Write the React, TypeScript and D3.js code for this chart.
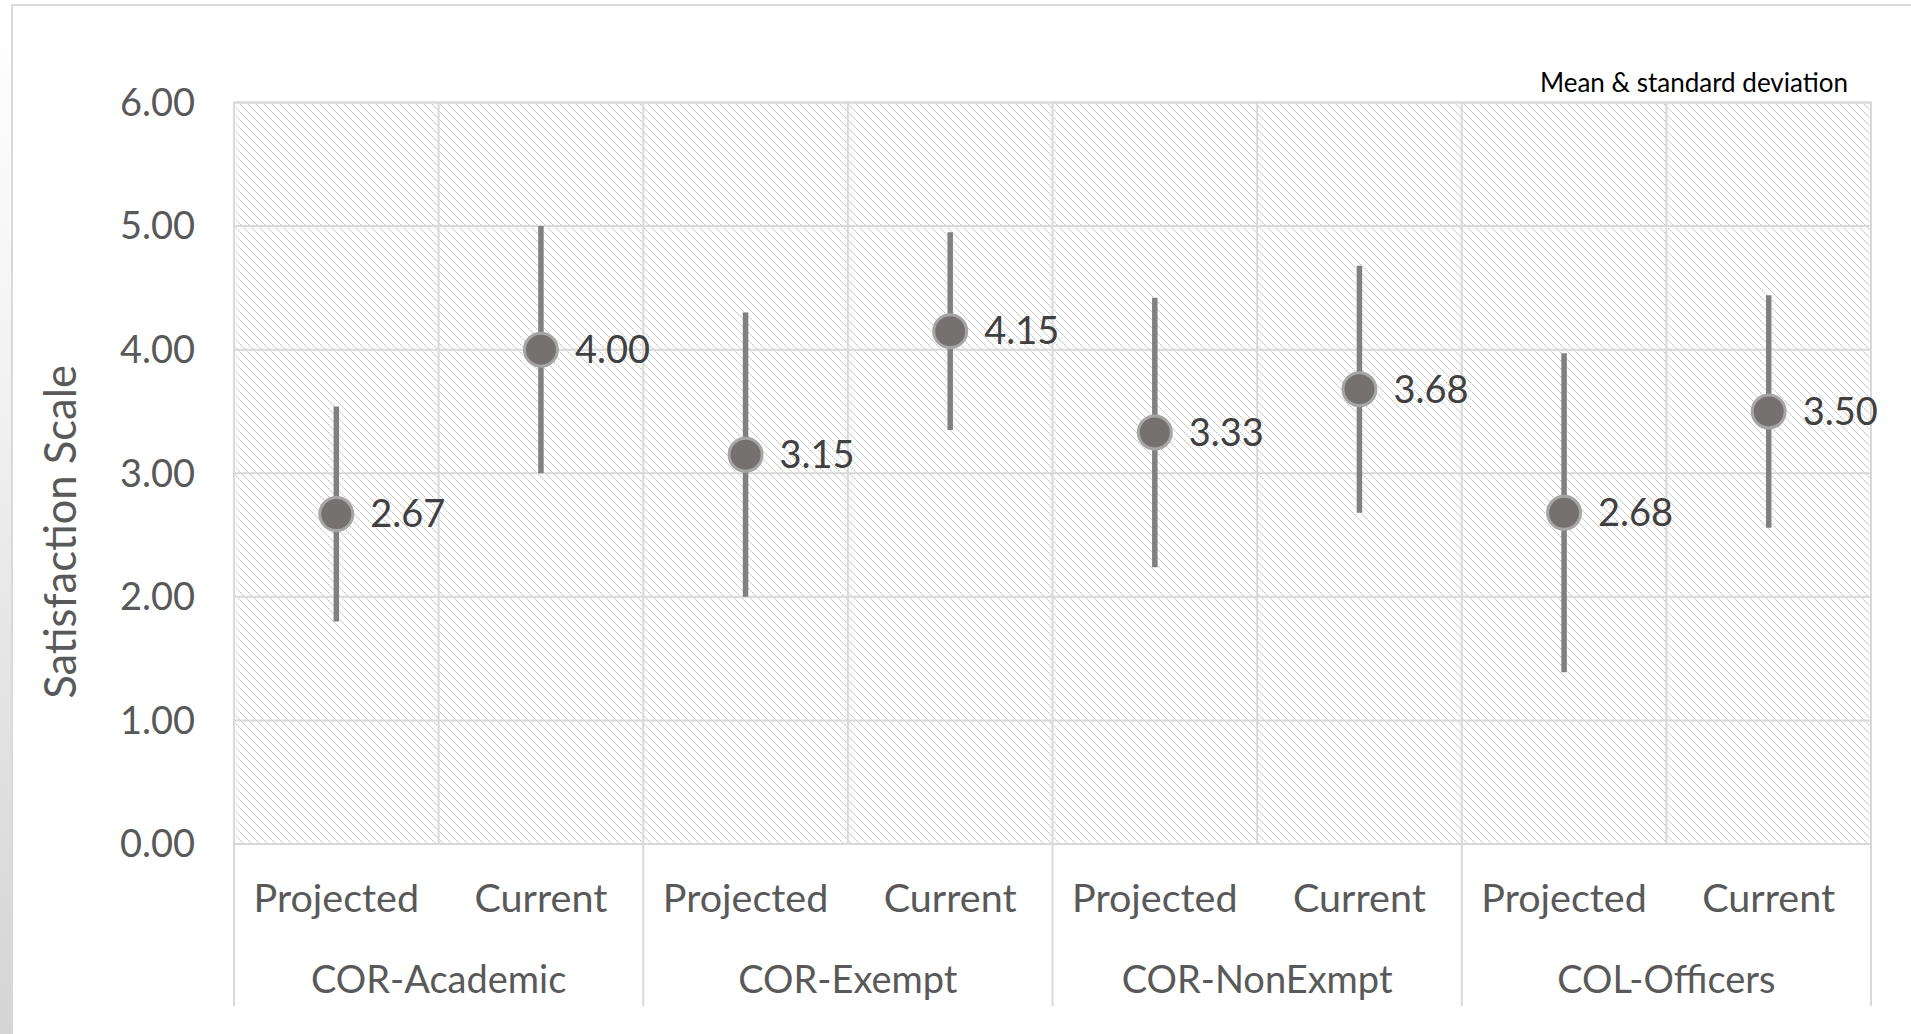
import React from "react";
import * as d3 from "d3";

const groups = ["COR-Academic", "COR-Exempt", "COR-NonExmpt", "COL-Officers"];
const subCats = ["Projected", "Current"];
const means = [2.67, 4.0, 3.15, 4.15, 3.33, 3.68, 2.68, 3.5];
const sds = [0.87, 1.0, 1.15, 0.8, 1.09, 1.0, 1.29, 0.94];
const yTicks = [0, 1, 2, 3, 4, 5, 6];
const yTitle = "Satisfaction Scale";
const noteText = "Mean & standard deviation";

const W = 1911;
const H = 1034;
const FONT = "Lato, 'Open Sans', sans-serif";

export default function App() {
  const left = 234, right = 1871, top = 102.5, bottom = 844;
  const cats = groups.flatMap((g) => subCats.map((s) => `${g}|${s}`));
  const x = d3.scaleBand<string>().domain(cats).range([left, right]).paddingInner(0).paddingOuter(0);
  const xg = d3.scaleBand<string>().domain(groups).range([left, right]);
  const y = d3.scaleLinear().domain([0, 6]).range([bottom, top]);

  return (
    <svg width={W} height={H} style={{ position: "absolute", left: 0, top: 0, display: "block", background: "#fff" }}>
      <defs>
        <pattern id="hatch" width="8" height="8" patternUnits="userSpaceOnUse">
          <rect width="8" height="8" fill="#ffffff" />
          {[0, 2, 4, 6].map((i) => (
            <rect key={i} x={i} y={i} width="1.3" height="1.3" fill="#c8c8c8" />
          ))}
          {[1, 3, 5, 7].map((i) => (
            <rect key={"b" + i} x={i} y={i} width="1" height="1" fill="#e4e4e4" />
          ))}
        </pattern>
        <linearGradient id="edge" x1="0" y1="0" x2="0" y2="1">
          <stop offset="0%" stopColor="#ffffff" />
          <stop offset="35%" stopColor="#f3f3f3" />
          <stop offset="100%" stopColor="#d4d4d4" />
        </linearGradient>
      </defs>
      <rect x={0} y={0} width={11} height={H} fill="url(#edge)" />
      <line x1={12} y1={5} x2={W} y2={5} stroke="#d9d9d9" strokeWidth={2} />
      <line x1={12} y1={5} x2={12} y2={H} stroke="#d9d9d9" strokeWidth={2} />

      {/* plot area */}
      <rect x={left} y={top} width={right - left} height={bottom - top} fill="url(#hatch)" stroke="#d9d9d9" strokeWidth={2} />
      {yTicks.map((t) => (
        <line key={"g" + t} x1={left} x2={right} y1={y(t)} y2={y(t)} stroke="#d9d9d9" strokeWidth={2} />
      ))}
      {cats.map((c, i) =>
        i > 0 ? (
          <line key={"v" + c} x1={x(c)!} x2={x(c)!} y1={top} y2={bottom} stroke="#d9d9d9" strokeWidth={2} />
        ) : null
      )}
      {/* group separators below axis */}
      {groups.map((g) => (
        <line key={"s" + g} x1={xg(g)!} x2={xg(g)!} y1={bottom} y2={1006} stroke="#d9d9d9" strokeWidth={2} />
      ))}
      <line x1={right} x2={right} y1={bottom} y2={1006} stroke="#d9d9d9" strokeWidth={2} />

      {/* y tick labels */}
      {yTicks.map((t) => (
        <text key={"t" + t} x={195} y={y(t)} dy="0.35em" textAnchor="end" fontFamily={FONT} fontSize={38} fill="#595959">
          {d3.format(".2f")(t)}
        </text>
      ))}
      <text
        transform={`translate(61,532) rotate(-90)`}
        textAnchor="middle"
        dy="0.35em"
        fontFamily={FONT}
        fontSize={43.5}
        fill="#595959"
      >
        {yTitle}
      </text>

      {/* x labels */}
      {cats.map((c) => (
        <text key={"x" + c} x={x(c)! + x.bandwidth() / 2} y={898} dy="0.35em" textAnchor="middle" fontFamily={FONT} fontSize={39.5} fill="#595959">
          {c.split("|")[1]}
        </text>
      ))}
      {groups.map((g) => (
        <text key={"xg" + g} x={xg(g)! + xg.bandwidth() / 2} y={980} dy="0.35em" textAnchor="middle" fontFamily={FONT} fontSize={38} fill="#595959">
          {g}
        </text>
      ))}

      {/* error bars and points */}
      {cats.map((c, i) => {
        const cx = x(c)! + x.bandwidth() / 2;
        return (
          <g key={"p" + c}>
            <line x1={cx} x2={cx} y1={y(means[i] + sds[i])} y2={y(means[i] - sds[i])} stroke="#808080" strokeWidth={5.5} />
            <circle cx={cx} cy={y(means[i])} r={16.5} fill="#767171" stroke="#a6a6a6" strokeWidth={3} />
            <text x={cx + 34} y={y(means[i])} dy="0.35em" fontFamily={FONT} fontSize={38} fill="#404040">
              {d3.format(".2f")(means[i])}
            </text>
          </g>
        );
      })}

      <text x={1848} y={83} dy="0.35em" textAnchor="end" fontFamily={FONT} fontSize={26} fill="#000">
        {noteText}
      </text>
    </svg>
  );
}
